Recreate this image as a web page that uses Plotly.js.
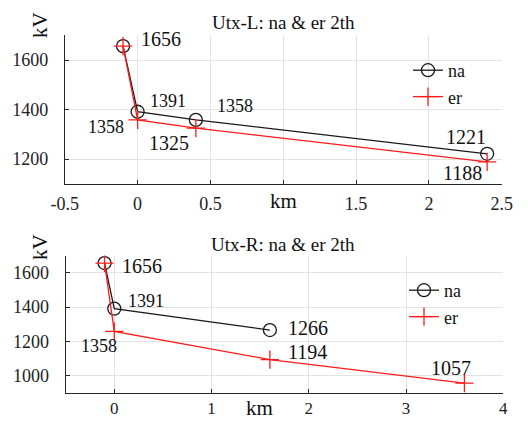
<!DOCTYPE html>
<html><head><meta charset="utf-8">
<script src="https://cdn.plot.ly/plotly-3.0.1.min.js"></script>
<style>html,body{margin:0;padding:0;background:#fff}#chart{width:528px;height:421px}</style>
</head><body><div id="chart"></div>
<script>
// ---- data ----
const topNaX = [-0.1, 0, 0.4, 2.4];
const topNaY = [1656, 1391, 1358, 1221];
const topErX = [-0.1, 0, 0.4, 2.4];
const topErY = [1656, 1358, 1325, 1188];
const botNaX = [-0.1, 0, 1.6];
const botNaY = [1656, 1391, 1266];
const botErX = [-0.1, 0, 1.6, 3.6];
const botErY = [1656, 1258, 1094, 957];
// point labels as printed in the figure
const topNaLabels = ['1656', '1391', '1358', '1221'];
const topErLabels = [null, '1358', '1325', '1188'];
const botNaLabels = ['1656', '1391', '1266'];
const botErLabels = [null, '1358', '1194', '1057'];
const titles = ['Utx-L: na & er 2th', 'Utx-R: na & er 2th'];
const seriesNames = ['na', 'er'];

// ---- label styling (pixel offsets, font sizes) ----
const topNaOff = [[38, 7, 20], [30, 11, 18], [39, 14, 18], [-21, 17, 20]];
const topErOff = [null, [-32, -7, 18], [-27, -15, 20], [-25, -11, 20]];
const botNaOff = [[37, -3, 20], [32, 8, 18], [38, 2, 20]];
const botErOff = [null, [-15, -15, 18], [38, 8, 20], [-13, 15, 20]];

const FONT = '"Liberation Serif", "Times New Roman", serif';
const TXT = '#111';
const black = '#1a1a1a', red = '#ff1a1a';

function mk(x, y, name, xa, ya, leg, show) {
  const isNa = name === 'na';
  return {
    x, y, name, xaxis: xa, yaxis: ya, legend: leg, showlegend: show,
    mode: 'lines+markers', type: 'scatter',
    line: {color: isNa ? black : red, width: 1.3},
    marker: isNa
      ? {symbol: 'circle-open', size: 13, color: black, line: {width: 1.3, color: black}}
      : {symbol: 'cross-thin-open', size: 13, color: red, line: {width: 1.3, color: red}}
  };
}

const data = [
  mk(topNaX, topNaY, seriesNames[0], 'x', 'y', 'legend', true),
  mk(topErX, topErY, seriesNames[1], 'x', 'y', 'legend', true),
  mk(botNaX, botNaY, seriesNames[0], 'x2', 'y2', 'legend2', true),
  mk(botErX, botErY, seriesNames[1], 'x2', 'y2', 'legend2', true)
];

const annotations = [];
function addLabels(xs, ys, labels, offs, xr, yr) {
  labels.forEach((t, i) => {
    if (!t) return;
    annotations.push({x: xs[i], y: ys[i], xref: xr, yref: yr, text: t, showarrow: false,
      xanchor: 'center', yanchor: 'middle',
      xshift: offs[i][0], yshift: offs[i][1], font: {family: FONT, size: offs[i][2], color: TXT}});
  });
}
addLabels(topNaX, topNaY, topNaLabels, topNaOff, 'x', 'y');
addLabels(topErX, topErY, topErLabels, topErOff, 'x', 'y');
addLabels(botNaX, botNaY, botNaLabels, botNaOff, 'x2', 'y2');
addLabels(botErX, botErY, botErLabels, botErOff, 'x2', 'y2');

function paperText(px, py, text, size, angle) {
  annotations.push({xref: 'paper', yref: 'paper', x: px/528, y: 1 - py/421, text, showarrow: false,
    xanchor: 'center', yanchor: 'middle', textangle: angle || 0,
    font: {family: FONT, size, color: TXT}});
}
// titles, axis labels
paperText(283, 23, titles[0], 19);
paperText(283, 244, titles[1], 19);
paperText(283, 201, 'km', 21);
paperText(259, 408, 'km', 21);
paperText(40, 25, 'kV', 21, -90);
paperText(40, 247, 'kV', 21, -90);

const axBase = {
  showline: true, linecolor: '#262626', linewidth: 1, mirror: false,
  showgrid: true, gridcolor: '#e3e3e3', gridwidth: 1, zeroline: false,
  ticks: 'inside', ticklen: 4, tickcolor: '#262626',
  tickfont: {family: FONT, size: 18, color: '#222'}
};

const layout = {
  width: 528, height: 421,
  margin: {l: 0, r: 0, t: 0, b: 0},
  font: {family: FONT},
  paper_bgcolor: '#fff', plot_bgcolor: '#fff',
  xaxis: Object.assign({}, axBase, {domain: [64.8/528, 501.7/528], range: [-0.5, 2.5], tickvals: [-0.5, 0, 0.5, 1, 1.5, 2, 2.5],
    ticktext: ['-0.5', '0', '0.5', '', '1.5', '2', '2.5'], anchor: 'y', ticklabelstandoff: 4}),
  yaxis: Object.assign({}, axBase, {domain: [1 - 183.75/421, 1 - 35.25/421], range: [1100, 1700], tickvals: [1200, 1400, 1600], anchor: 'x', ticklabelstandoff: 12}),
  xaxis2: Object.assign({}, axBase, {domain: [65.65/528, 503.3/528], range: [-0.5, 4], tickvals: [0, 1, 2, 3, 4], anchor: 'y2', ticklabelstandoff: 0,
    tickfont: {family: FONT, size: 17, color: '#222'}}),
  yaxis2: Object.assign({}, axBase, {domain: [1 - 392.9/421, 1 - 255.5/421], range: [900, 1700], tickvals: [1000, 1200, 1400, 1600], anchor: 'x2', ticklabelstandoff: 12}),
  legend: {x: 408/528, y: 1 - 52/421, xanchor: 'left', yanchor: 'top', bgcolor: 'rgba(0,0,0,0)',
    font: {family: FONT, size: 18, color: TXT}, tracegroupgap: 0, itemwidth: 30},
  legend2: {x: 404/528, y: 1 - 272/421, xanchor: 'left', yanchor: 'top', bgcolor: 'rgba(0,0,0,0)',
    font: {family: FONT, size: 18, color: TXT}, tracegroupgap: 0, itemwidth: 30},
  annotations,
  showlegend: true
};

Plotly.newPlot('chart', data, layout, {displayModeBar: false, staticPlot: true});
</script></body></html>
